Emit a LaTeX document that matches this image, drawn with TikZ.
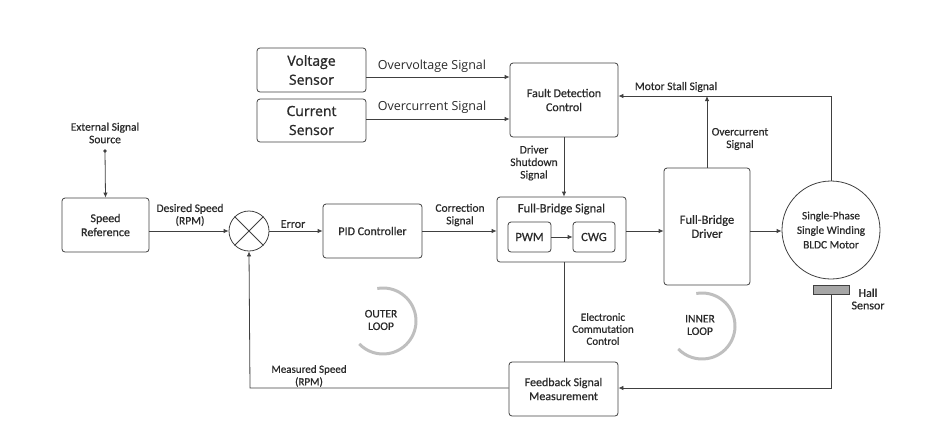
\documentclass[tikz,border=0pt]{standalone}
\usepackage{fontspec}
\setmainfont{Carlito}[FakeBold=0.6]
\newfontfamily\sensorfont{Open Sans}
\newfontfamily\sensorbold{Open Sans}[FakeBold=1.2]
\usetikzlibrary{arrows.meta,calc}
\definecolor{ln}{HTML}{404040}
\definecolor{tx}{HTML}{2A2A2A}
\definecolor{loopc}{HTML}{BFBFBF}
\definecolor{hallc}{HTML}{A6A6A6}
\tikzset{
  blk/.style={draw=ln, line width=0.8pt, rounded corners=3pt, align=center, text=tx, inner sep=0pt, font=\fontsize{12}{14}\selectfont},
  lbl/.style={align=center, text=tx, inner sep=0pt, font=\fontsize{11.5}{12.5}\selectfont},
  arr/.style={-{Latex[length=5pt,width=4.5pt]}},
  wire/.style={draw=ln, line width=0.8pt},
  loopring/.style={draw=loopc, line width=3pt},
}
\begin{document}
\begin{tikzpicture}[x=1pt,y=1pt]
\useasboundingbox (0,0) rectangle (942,-440);
% blocks
\node[blk, minimum width=109pt, minimum height=44pt, font=\sensorbold\fontsize{14}{19}\selectfont] (vs) at (311.5,-70) {Voltage\\Sensor};
\node[blk, minimum width=109pt, minimum height=43pt, font=\sensorbold\fontsize{14}{19}\selectfont] (cs) at (311.5,-120.5) {Current\\Sensor};
\node[blk, minimum width=108pt, minimum height=74pt] (fdc) at (564,-100) {Fault Detection\\Control};
\node[blk, minimum width=87pt, minimum height=54pt] (sr) at (105.5,-225) {Speed\\Reference};
\node[draw=ln, line width=0.8pt, circle, minimum size=40pt, inner sep=0pt] (sum) at (249,-231) {};
\draw[wire] (sum.north west) -- (sum.south east) (sum.north east) -- (sum.south west);
\node[blk, minimum width=99pt, minimum height=54pt] (pid) at (372.5,-231) {PID Controller};
\node[blk, minimum width=129pt, minimum height=65pt] (fbs) at (561.5,-229.5) {};
\node[lbl, font=\fontsize{12.5}{13}\selectfont] (fbst) at (561.5,-209) {Full-Bridge Signal};
\node[blk, minimum width=43pt, minimum height=30pt, font=\fontsize{12.5}{13}\selectfont] (pwm) at (529.5,-237) {PWM};
\node[blk, minimum width=42pt, minimum height=30pt, font=\fontsize{12.5}{13}\selectfont] (cwg) at (594,-237) {CWG};
\node[blk, minimum width=86pt, minimum height=117pt, font=\fontsize{12.5}{14}\selectfont] (fbd) at (707,-226.5) {Full-Bridge\\Driver};
\node[draw=ln, line width=0.8pt, circle, minimum size=98pt, inner sep=0pt, align=center, text=tx, font=\fontsize{11.3}{14.5}\selectfont] (motor) at (831,-230) {Single-Phase\\Single Winding\\BLDC Motor};
\node[draw=ln, line width=0.8pt, fill=hallc, minimum width=36pt, minimum height=9pt, inner sep=0pt] (hall) at (831,-289.5) {};
\node[blk, minimum width=109pt, minimum height=54pt] (fsm) at (563.5,-389) {Feedback Signal\\Measurement};
% helper coordinates
\coordinate (ovy) at (0,-77);
\coordinate (ocy) at (0,-119);
\coordinate (msy) at (0,-96);
\coordinate (fwy) at (0,-231);
\coordinate (fby) at (0,-388);
\coordinate (ext) at (105,-151);
\coordinate (msc) at (831,-96);
\coordinate (occ) at (707,-96);
\coordinate (hbc) at (831,-388);
\coordinate (mbc) at (250,-388);
% connectors
\draw[wire,arr] (vs.east|-ovy) -- (fdc.west|-ovy);
\draw[wire,arr] (cs.east|-ocy) -- (fdc.west|-ocy);
\draw[wire,arr] (motor.north) -- (msc) -- (fdc.east|-msy);
\draw[wire,arr] (fbd.north) -- (occ);
\draw[wire,arr] (fdc.south) -- (fdc.south|-fbs.north);
\fill[ln] (ext) circle (1.8pt);
\draw[wire,arr] (ext) -- (sr.north);
\draw[wire,arr] (sr.east|-fwy) -- (sum.west);
\draw[wire,arr] (sum.east) -- (pid.west);
\draw[wire,arr] (pid.east) -- (fbs.west|-fwy);
\draw[wire,arr] (pwm.east) -- (cwg.west);
\draw[wire,arr] (fbs.east|-fwy) -- (fbd.west|-fwy);
\draw[wire,arr] (fbd.east|-fwy) -- (motor.west|-fwy);
\draw[wire] (fdc.south|-fbs.south) -- (fdc.south|-fsm.north);
\draw[wire,arr] (hall.south) -- (hbc) -- (fsm.east|-fby);
\draw[wire,arr] (fsm.west|-fby) -- (mbc) -- (sum.south);
% labels
\node[lbl] (l1) at (105,-133) {External Signal\\Source};
\node[lbl] (l2) at (190,-215) {Desired Speed\\(RPM)};
\node[lbl, font=\fontsize{12}{13}\selectfont] (l3) at (293,-224) {Error};
\node[lbl] (l4) at (460,-215) {Correction\\Signal};
\node[lbl, font=\sensorfont\fontsize{12.5}{13}\selectfont] (l5) at (432,-66) {Overvoltage Signal};
\node[lbl, font=\sensorfont\fontsize{12.5}{13}\selectfont] (l6) at (432,-107) {Overcurrent Signal};
\node[lbl] (l7) at (676,-87) {Motor Stall Signal};
\node[lbl] (l8) at (740,-139) {Overcurrent\\Signal};
\node[lbl] (l9) at (534,-163) {Driver\\Shutdown\\Signal};
\node[lbl, font=\fontsize{11}{12}\selectfont] (l10) at (603,-329) {Electronic\\Commutation\\Control};
\node[lbl, font=\fontsize{11}{12.5}\selectfont] (l11) at (309,-376) {Measured Speed\\(RPM)};
\node[lbl, font=\fontsize{12}{12.5}\selectfont] (l12) at (868,-299) {Hall\\Sensor};
% loops
\coordinate (oc) at (383,-321);
\coordinate (ic) at (702,-326);
\draw[loopring] ($(oc)+(100:33)$) arc[start angle=100, end angle=-136, radius=33];
\draw[loopring] ($(ic)+(100:33)$) arc[start angle=100, end angle=-136, radius=33];
\node[lbl] (l13) at (381,-320) {OUTER\\LOOP};
\node[lbl] (l14) at (700,-325) {INNER\\LOOP};
\end{tikzpicture}
\end{document}
